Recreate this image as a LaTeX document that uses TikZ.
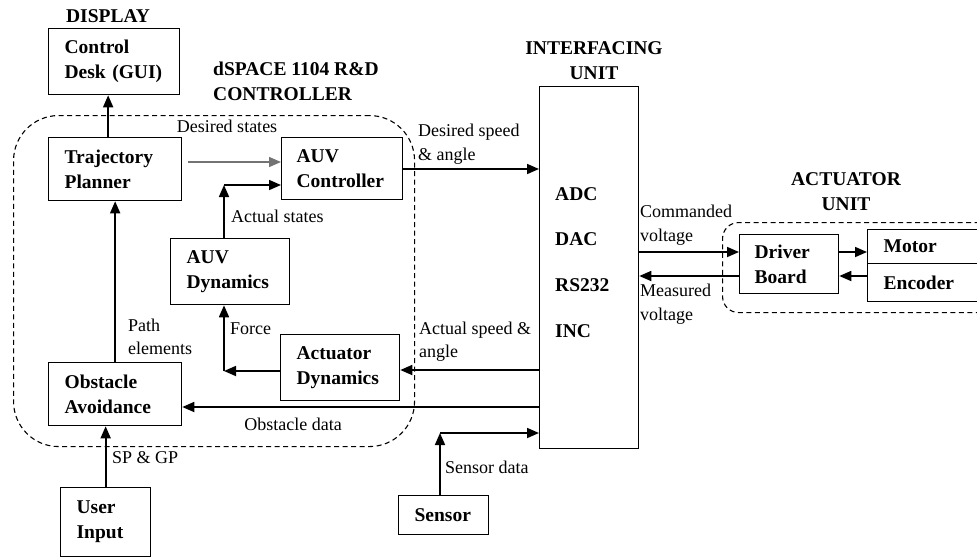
\documentclass[tikz,border=0pt]{standalone}
\usepackage{fontspec}
\setmainfont{Liberation Serif}
\usetikzlibrary{arrows.meta,calc}
\newcommand\bfnt{\fontsize{19.5}{25}\selectfont\bfseries}
\newcommand\rgfnt{\fontsize{18}{23.5}\selectfont}
\tikzset{
  blk/.style={draw, line width=1.3pt, inner xsep=16pt, inner ysep=0pt,
    align=left, anchor=north west, font=\bfnt},
  zone/.style={draw, line width=1.1pt, dash pattern=on 5pt off 3.5pt,
    inner sep=0pt, anchor=north west},
  lbl/.style={inner sep=0pt, anchor=west, align=left, font=\rgfnt},
  hdr/.style={inner sep=0pt, align=center, font=\bfnt},
  arr/.style={line width=1.7pt, -{Triangle[length=12pt,width=10pt]}},
}
\begin{document}
\begin{tikzpicture}[x=1pt,y=-1pt]
\useasboundingbox (0,0) rectangle (977,558);
\clip (0,0) rectangle (977,558);

% dashed group outlines
\node[zone, rounded corners=45pt, minimum width=401pt, minimum height=331pt] (ctrlzone) at (13,115) {};
\node[zone, rounded corners=16pt, minimum width=290pt, minimum height=90pt] (actzone) at (722,222) {};

% headings
\node[hdr] (hdisp) at (108,16) {DISPLAY};
\node[hdr, anchor=west, align=left] (hdspace) at (213,81.5) {dSPACE 1104 R\&D\\CONTROLLER};
\node[hdr] (hiface) at (594,61) {INTERFACING\\UNIT};
\node[hdr] (hact) at (846,191.5) {ACTUATOR\\UNIT};

% blocks
\node[blk, text width=99pt, minimum height=66pt] (desk) at (48,28) {Control\\Desk (GUI)};
\node[blk, text width=101pt, minimum height=63pt] (traj) at (48,137) {Trajectory\\Planner};
\node[blk, text width=91pt, minimum height=62pt, inner xsep=15pt] (ctrl) at (281,137) {AUV\\Controller};
\node[blk, text width=87pt, minimum height=66pt] (auvdyn) at (170,238) {AUV\\Dynamics};
\node[blk, text width=87pt, minimum height=66pt] (actdyn) at (280,334) {Actuator\\Dynamics};
\node[blk, text width=101pt, minimum height=63pt] (obst) at (48,362) {Obstacle\\Avoidance};
\node[blk, text width=58pt, minimum height=69pt] (user) at (60,487) {User\\Input};
\node[blk, text width=58pt, minimum height=39pt] (sensor) at (398,495) {Sensor};
\node[blk, minimum width=99pt, minimum height=362pt, inner xsep=0pt] (iface) at (539,86) {};
\node[blk, text width=69pt, minimum height=59pt, inner xsep=15pt] (driver) at (739,234) {Driver\\Board};
\node[blk, text width=101pt, minimum height=34pt] (motor) at (867,229) {Motor};
\node[blk, text width=101pt, minimum height=38pt] (encoder) at (867,263) {Encoder};

% interface channels
\node[lbl, font=\bfnt] (adc) at (555,194) {ADC};
\node[lbl, font=\bfnt] (dac) at (555,239) {DAC};
\node[lbl, font=\bfnt] (rs) at (555,285) {RS232};
\node[lbl, font=\bfnt] (inc) at (555,331) {INC};

% signal labels
\node[hdr, font=\rgfnt] (ldes) at (227,126) {Desired states};
\node[lbl] (ldsa) at (418,144) {Desired speed\\\& angle};
\node[lbl] (lact) at (231,216) {Actual states};
\node[lbl] (lpath) at (128,337) {Path\\elements};
\node[lbl] (lforce) at (230,329) {Force};
\node[lbl] (lasa) at (419,341.5) {Actual speed \&\\angle};
\node[hdr, font=\rgfnt] (lobs) at (293,424) {Obstacle data};
\node[lbl] (lsp) at (112,458) {SP \& GP};
\node[lbl] (lsen) at (445,467) {Sensor data};
\node[lbl] (lcmd) at (640,225) {Commanded\\voltage};
\node[lbl] (lmeas) at (640,304) {Measured\\voltage};

% signal levels and bends
\coordinate (ydes) at (188,162);
\coordinate (asc) at (224,185);
\coordinate (fc) at (224,371);
\coordinate (yas) at (0,370);
\coordinate (yod) at (0,407);
\coordinate (sc) at (440,433);
\coordinate (ycm) at (0,252);
\coordinate (yms) at (0,276);

% connectors
\draw[arr] ([xshift=-7pt]traj.north) -- ([xshift=-7pt]traj.north |- desk.south);
\draw[arr] (obst.north) -- (obst.north |- traj.south);
\draw[arr] (user.north) -- (user.north |- obst.south);
\draw[arr, draw=black!55, line width=1.4pt] (ydes) -- (ydes -| ctrl.west);
\draw[arr] (asc |- auvdyn.north) -- (asc);
\draw[arr] (asc) -- (asc -| ctrl.west);
\draw[arr] (fc -| actdyn.west) -- (fc);
\draw[arr] (fc) -- (fc |- auvdyn.south);
\draw[arr] (ctrl.east |- 0,169) -- (iface.west |- 0,169);
\draw[arr] (iface.west |- yas) -- (actdyn.east |- yas);
\draw[arr] (iface.west |- yod) -- (obst.east |- yod);
\draw[arr] (sc |- sensor.north) -- (sc);
\draw[arr] (sc) -- (sc -| iface.west);
\draw[arr] (iface.east |- ycm) -- (driver.west |- ycm);
\draw[arr] (driver.west |- yms) -- (iface.east |- yms);
\draw[arr] (driver.east |- ycm) -- (motor.west |- ycm);
\draw[arr] (encoder.west |- yms) -- (driver.east |- yms);
\end{tikzpicture}
\end{document}
